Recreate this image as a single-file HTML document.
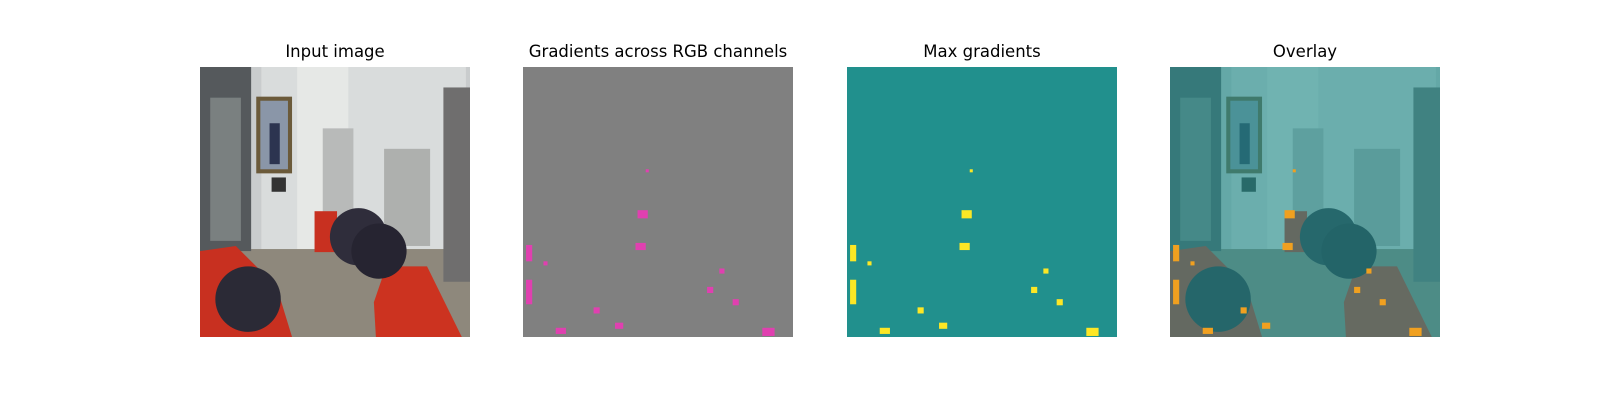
<!DOCTYPE html>
<html><head><meta charset="utf-8"><style>
body{margin:0;background:#fff;width:1600px;height:400px;overflow:hidden;font-family:"DejaVu Sans","Liberation Sans",sans-serif}
.t{position:absolute;top:42px;width:300px;text-align:center;font-size:16.5px;color:#000}
svg.p{position:absolute;top:67px;width:270px;height:270px}
</style></head><body>
<div class="t" style="left:185px">Input image</div>
<div class="t" style="left:508px">Gradients across RGB channels</div>
<div class="t" style="left:832px">Max gradients</div>
<div class="t" style="left:1155px">Overlay</div>

<svg class="p" id="p1" style="left:200px" viewBox="0 0 264 264"></svg>
<svg class="p" id="p2" style="left:523px" viewBox="0 0 264 264"></svg>
<svg class="p" id="p3" style="left:847px" viewBox="0 0 264 264"></svg>
<svg class="p" id="p4" style="left:1170px" viewBox="0 0 264 264"></svg>
<script>
const blobX=[112,110,3,3,69,205,192,234,32,120,90,180,20];
const blobY=[140,172,174,208,235,227,197,255,255,100,250,215,190];
const blobW=[10,10,6,6,6,6,5,12,10,3,8,6,4];
const blobH=[8,7,16,24,6,6,5,8,6,3,6,6,4];
const NS="http://www.w3.org/2000/svg";
function sceneMarkup(){
return `<rect width="264" height="264" fill="#c9cccd"/>
<rect x="60" width="200" height="180" fill="#d9dcdc"/>
<rect x="95" y="0" width="50" height="180" fill="#e6e8e6"/>
<rect x="0" y="178" width="264" height="86" fill="#8e887c"/>
<rect x="0" y="0" width="50" height="180" fill="#55595c"/>
<rect x="10" y="30" width="30" height="140" fill="#7a8080"/>
<rect x="238" y="20" width="26" height="190" fill="#6f6e6e"/>
<rect x="120" y="60" width="30" height="120" fill="#b8bab9"/>
<rect x="180" y="80" width="45" height="95" fill="#aeb0ae"/>
<rect x="55" y="29" width="35" height="75" fill="#6b5a3a"/>
<rect x="59" y="33" width="27" height="67" fill="#8a96a8"/>
<rect x="68" y="55" width="10" height="40" fill="#2c3450"/>
<rect x="70" y="108" width="14" height="14" fill="#333"/>
<polygon points="0,180 35,175 75,215 90,264 0,264" fill="#c83020"/>
<circle cx="47" cy="227" r="32" fill="#2b2a36"/>
<polygon points="182,195 222,195 256,264 172,264 170,230" fill="#cc3320"/>
<rect x="112" y="141" width="22" height="40" fill="#c83020"/>
<circle cx="155" cy="166" r="28" fill="#2f2d3b"/>
<circle cx="175" cy="180" r="27" fill="#262431"/>`;}
function blobs(svg,fill,name){
  for(let i=0;i<blobX.length;i++){
    const r=document.createElementNS(NS,'rect');
    r.setAttribute('x',blobX[i]);r.setAttribute('y',blobY[i]);
    r.setAttribute('width',blobW[i]);r.setAttribute('height',blobH[i]);
    r.setAttribute('fill',fill);
    
    
    svg.appendChild(r);
  }
}
const p1=document.getElementById('p1');p1.innerHTML=sceneMarkup();
const p2=document.getElementById('p2');p2.innerHTML='<rect width="264" height="264" fill="#808080"/>';
blobs(p2,'#e040b0','gradient-blob');
const p3=document.getElementById('p3');p3.innerHTML='<rect width="264" height="264" fill="#21908d"/>';
blobs(p3,'#fde725','max-gradient-blob');
const p4=document.getElementById('p4');p4.innerHTML=sceneMarkup()+'<rect width="264" height="264" fill="#21908d" opacity="0.6"/>';
blobs(p4,'#f0a020','overlay-blob');
</script>
</body></html>
